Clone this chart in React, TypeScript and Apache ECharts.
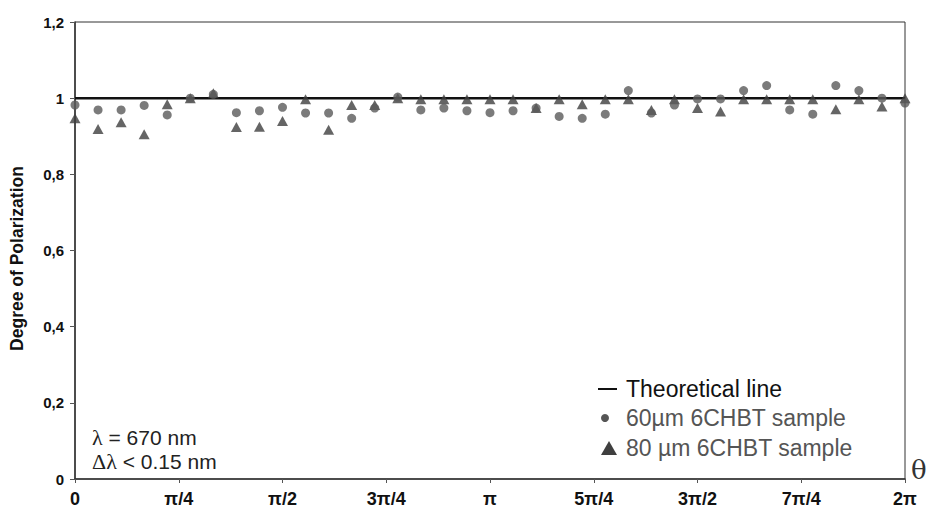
import React, { useEffect, useRef } from "react";
import * as echarts from "echarts";

const anglesDeg = [0,10,20,30,40,50,60,70,80,90,100,110,120,130,140,150,160,170,180,190,200,210,220,230,240,250,260,270,280,290,300,310,320,330,340,350,360];
const sample60 = [0.982,0.969,0.969,0.981,0.956,1.0,1.01,0.962,0.967,0.976,0.961,0.961,0.947,0.974,1.003,0.969,0.974,0.967,0.962,0.967,0.974,0.952,0.947,0.958,1.02,0.961,0.982,0.998,0.998,1.02,1.033,0.969,0.958,1.033,1.02,1.0,0.987];
const sample80 = [0.947,0.919,0.937,0.905,0.984,1.0,1.013,0.924,0.925,0.94,0.997,0.917,0.982,0.982,1.0,0.997,0.997,0.997,0.997,0.997,0.974,0.997,0.984,0.997,0.997,0.969,0.997,0.974,0.965,0.997,0.997,0.997,0.997,0.971,0.997,0.978,1.0];
const theoretical = [[0, 1], [360, 1]];
const xTickLabels = ["0", "π/4", "π/2", "3π/4", "π", "5π/4", "3π/2", "7π/4", "2π"];
const seriesNames = ["Theoretical line", "60µm 6CHBT sample", "80 µm 6CHBT sample"];

export default function App() {
  const ref = useRef<HTMLDivElement>(null);
  useEffect(() => {
    if (!ref.current) return;
    const chart = echarts.init(ref.current, null, { renderer: "svg" });
    const font = "Arial, 'Liberation Sans', Helvetica, sans-serif";
    const serif = "'Liberation Serif', 'DejaVu Serif', serif";
    const legendFont = 23;
    chart.setOption({
      animation: false,
      backgroundColor: "#fff",
      textStyle: { fontFamily: font },
      grid: {
        left: 73, right: 22, top: 22, bottom: 36,
        show: true, borderColor: "#333", borderWidth: 1, backgroundColor: "transparent",
      },
      legend: { show: false, data: seriesNames },
      xAxis: {
        type: "value", min: 0, max: 360, interval: 45,
        axisLine: { lineStyle: { color: "#333", width: 1.5 } },
        axisTick: { show: true, length: 4, lineStyle: { color: "#555" } },
        splitLine: { show: false },
        axisLabel: {
          margin: 11, fontSize: 18, fontWeight: "bold", color: "#111",
          formatter: (v: number) => xTickLabels[Math.round(v / 45)] ?? "",
        },
      },
      yAxis: {
        type: "value", min: 0, max: 1.2, interval: 0.2,
        name: "Degree of Polarization",
        nameLocation: "middle", nameRotate: 90, nameGap: 49,
        nameTextStyle: { fontSize: 17.5, fontWeight: "bold", color: "#111", padding: [0, 16, 0, 0] },
        axisLine: { show: true, lineStyle: { color: "#333", width: 1.5 } },
        axisTick: { show: true, length: 5, lineStyle: { color: "#555" } },
        splitLine: { show: false },
        axisLabel: {
          margin: 11, fontSize: 15, fontWeight: "bold", color: "#111",
          formatter: (v: number) => String(parseFloat(v.toFixed(1))).replace(".", ","),
        },
      },
      series: [
        {
          name: seriesNames[0], type: "line", data: theoretical,
          symbol: "none", lineStyle: { color: "#111", width: 2.5 },
          itemStyle: { color: "#111" }, z: 1,
        },
        {
          name: seriesNames[1], type: "scatter",
          data: anglesDeg.map((a, i) => [a, sample60[i]]),
          symbol: "circle", symbolSize: 9, clip: false,
          itemStyle: { color: "#5a5a5a" }, z: 3,
        },
        {
          name: seriesNames[2], type: "scatter",
          data: anglesDeg.map((a, i) => [a, sample80[i]]),
          symbol: "triangle", symbolSize: [11, 10], clip: false,
          itemStyle: { color: "#3f3f3f" }, z: 2,
        },
      ],
      graphic: [
        // legend
        { type: "line", shape: { x1: 598, y1: 389, x2: 617, y2: 389 }, style: { stroke: "#111", lineWidth: 2 } },
        { type: "text", x: 626, y: 389, style: { text: seriesNames[0], fontSize: legendFont, fill: "#111", fontFamily: font, verticalAlign: "middle", align: "left" } },
        { type: "circle", shape: { cx: 605, cy: 418, r: 4 }, style: { fill: "#555" } },
        { type: "text", x: 626, y: 418, style: { text: seriesNames[1], fontSize: legendFont, fill: "#555", fontFamily: font, verticalAlign: "middle", align: "left" } },
        { type: "polygon", shape: { points: [[609, 441], [617, 455], [601, 455]] }, style: { fill: "#3f3f3f" } },
        { type: "text", x: 626, y: 448, style: { text: seriesNames[2], fontSize: legendFont, fill: "#555", fontFamily: font, verticalAlign: "middle", align: "left" } },
        // annotation
        {
          type: "text", x: 92, y: 437,
          style: {
            text: "{s|λ} = 670 nm", fontSize: 21, fill: "#222", fontFamily: font, verticalAlign: "middle", align: "left",
            rich: { s: { fontFamily: serif, fontSize: 22, fill: "#222" } },
          },
        },
        {
          type: "text", x: 92, y: 461,
          style: {
            text: "{s|Δλ} < 0.15 nm", fontSize: 21, fill: "#222", fontFamily: font, verticalAlign: "middle", align: "left",
            rich: { s: { fontFamily: serif, fontSize: 22, fill: "#222" } },
          },
        },
        { type: "text", x: 911, y: 470, style: { text: "θ", fontSize: 26, fill: "#333", fontFamily: "'DejaVu Serif', 'Liberation Serif', serif", verticalAlign: "middle", align: "left" } },
      ],
    });
    return () => chart.dispose();
  }, []);
  return <div ref={ref} style={{ width: 927, height: 515, position: "absolute", left: 0, top: 0 }} />;
}
